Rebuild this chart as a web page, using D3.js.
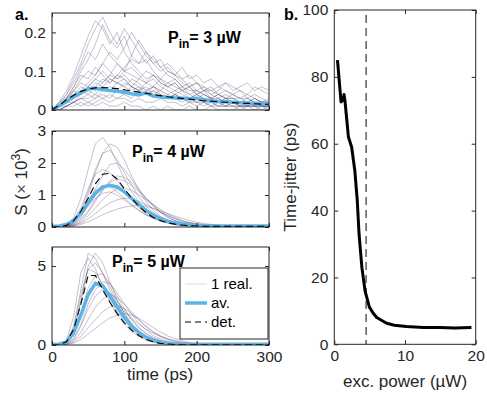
<!DOCTYPE html>
<html>
<head>
<meta charset="utf-8">
<script src="https://cdn.jsdelivr.net/npm/d3@7"></script>
<style>
  body { margin: 0; background: #fff; }
  svg { display: block; font-family: "Liberation Sans", Arial, sans-serif; }
</style>
</head>
<body>
<div id="chart"></div>
<script>
const W = 487, H = 394;

// time grid of the realizations (ps)
const TIME = d3.range(0, 301, 10);

// P_in = 3 µW
const P3_AVG = [0,.011,.022,.034,.045,.055,.056,.053,.050,.048,.046,.042,.039,.044,.036,.034,.032,.031,.030,.029,.030,.026,.023,.022,.021,.020,.019,.018,.017,.017,.016];
const P3_DET = [0,.013,.026,.038,.048,.054,.057,.058,.057,.055,.052,.049,.046,.043,.040,.037,.034,.032,.030,.028,.026,.024,.023,.021,.020,.019,.018,.017,.016,.015,.015];
const P3_REAL = [
  [0,.02,.05,.09,.14,.19,.23,.21,.17,.20,.15,.12,.10,.08,.09,.07,.06,.05,.06,.04,.03,.04,.03,.02,.03,.02,.02,.01,.02,.01,.01],
  [0,.01,.03,.06,.10,.13,.17,.22,.18,.16,.19,.14,.12,.13,.10,.08,.07,.08,.06,.05,.05,.04,.03,.04,.03,.03,.02,.02,.03,.02,.02],
  [0,.01,.02,.04,.05,.07,.09,.12,.15,.13,.16,.20,.17,.14,.12,.10,.11,.09,.07,.06,.07,.05,.06,.04,.05,.04,.03,.04,.03,.02,.03],
  [0,.01,.02,.03,.04,.05,.04,.06,.05,.07,.06,.05,.06,.04,.05,.04,.03,.04,.03,.03,.02,.03,.02,.02,.01,.02,.01,.01,.02,.01,.01],
  [0,0,.01,.01,.02,.01,.02,.03,.02,.03,.04,.03,.05,.04,.06,.08,.10,.09,.11,.08,.09,.07,.08,.06,.07,.05,.06,.07,.05,.06,.05],
  [0,.01,.03,.05,.08,.10,.09,.12,.10,.08,.09,.07,.06,.05,.06,.04,.03,.04,.03,.02,.02,.01,.02,.01,.01,.01,0,.01,0,.01,0],
  [0,0,.01,.02,.01,.02,.01,.02,.01,.01,.02,.01,.01,0,.01,0,.01,0,0,.01,0,0,.01,0,0,0,.01,0,0,0,0],
  [0,.02,.04,.07,.11,.15,.13,.17,.14,.12,.10,.11,.09,.07,.08,.06,.05,.04,.05,.03,.04,.03,.02,.03,.02,.02,.01,.02,.01,.01,.01],
  [0,.01,.02,.03,.05,.04,.06,.08,.07,.09,.11,.13,.12,.15,.13,.11,.12,.10,.08,.09,.07,.06,.05,.06,.05,.04,.05,.03,.04,.03,.02],
  [0,.01,.02,.02,.03,.03,.04,.03,.04,.03,.03,.02,.03,.02,.02,.03,.02,.02,.01,.02,.01,.02,.01,.01,.01,.02,.01,.01,.01,.01,.01],
  [0,.01,.04,.08,.12,.17,.21,.24,.20,.17,.21,.18,.15,.12,.14,.11,.09,.08,.06,.07,.05,.04,.03,.03,.02,.02,.02,.01,.01,.01,.01],
  [0,0,.01,.02,.03,.02,.03,.04,.03,.05,.04,.06,.05,.07,.06,.05,.07,.06,.05,.04,.05,.06,.04,.05,.07,.06,.05,.04,.06,.05,.04],
  [0,.01,.01,.02,.04,.06,.05,.07,.09,.08,.10,.09,.08,.10,.09,.07,.06,.07,.05,.06,.04,.05,.03,.04,.03,.03,.02,.03,.02,.02,.02],
  [0,.02,.03,.05,.07,.06,.08,.07,.09,.12,.10,.14,.18,.15,.12,.13,.10,.09,.08,.06,.07,.05,.05,.04,.03,.04,.03,.03,.02,.02,.02],
  [0,.01,.03,.04,.06,.05,.07,.06,.08,.07,.06,.08,.07,.05,.06,.05,.04,.05,.04,.03,.04,.03,.03,.02,.03,.02,.02,.02,.01,.02,.01],
  [0,.01,.02,.05,.04,.06,.08,.10,.08,.07,.08,.06,.05,.06,.04,.05,.03,.04,.03,.02,.03,.02,.02,.01,.02,.01,.01,.01,.01,0,.01],
  [0,0,.01,.02,.03,.04,.03,.05,.06,.05,.07,.06,.08,.07,.09,.08,.06,.07,.05,.06,.04,.05,.04,.03,.04,.03,.03,.02,.03,.02,.02],
  [0,.01,.03,.06,.09,.08,.11,.09,.07,.09,.08,.06,.05,.04,.05,.03,.04,.03,.02,.03,.02,.02,.01,.02,.01,.01,.01,.01,.01,.01,.01]
];

// P_in = 4 µW
const P4_AVG = [.02,.03,.08,.2,.45,.75,1.05,1.25,1.3,1.25,1.1,.9,.7,.52,.37,.26,.18,.13,.09,.07,.05,.04,.04,.03,.03,.03,.03,.03,.03,.03,.03];
const P4_DET = [0,.01,.05,.2,.5,.9,1.35,1.65,1.68,1.5,1.2,.9,.65,.45,.3,.2,.13,.09,.06,.04,.03,.02,.02,.02,.02,.02,.02,.02,.02,.02,.02];
const P4_REAL = [
  [0,0,.05,.3,.9,1.8,2.6,2.8,2.5,2.0,1.5,1.1,.8,.55,.35,.22,.14,.08,.05,.03,.02,.02,.01,.01,.01,.01,.01,.01,.01,.01,.01],
  [0,0,.03,.15,.5,1.1,1.8,2.3,2.4,2.1,1.7,1.3,.95,.65,.45,.3,.2,.12,.08,.05,.03,.02,.02,.01,.01,.01,.01,.01,.01,.01,.01],
  [0,0,.02,.1,.3,.7,1.2,1.6,1.95,2.0,1.8,1.5,1.2,.9,.65,.45,.3,.2,.13,.08,.05,.03,.02,.02,.01,.01,.01,.01,.01,.01,.01],
  [0,0,.02,.08,.25,.5,.85,1.15,1.4,1.5,1.45,1.3,1.1,.9,.7,.5,.35,.25,.17,.1,.06,.04,.03,.02,.02,.01,.01,.01,.01,.01,.01],
  [0,0,.01,.05,.15,.35,.6,.85,1.05,1.2,1.2,1.15,1.0,.85,.7,.55,.4,.3,.2,.13,.08,.05,.03,.02,.02,.01,.01,.01,.01,.01,.01],
  [0,0,.01,.04,.12,.25,.42,.6,.75,.85,.9,.88,.8,.7,.58,.46,.36,.27,.2,.14,.1,.07,.05,.03,.02,.02,.01,.01,.01,.01,.01],
  [0,0,.04,.2,.6,1.2,1.65,1.8,1.7,1.45,1.15,.85,.6,.42,.28,.18,.12,.07,.04,.03,.02,.01,.01,.01,.01,.01,.01,.01,.01,.01,.01],
  [0,0,.03,.12,.35,.65,.9,1.05,1.1,1.0,.85,.68,.52,.38,.27,.19,.13,.08,.05,.03,.02,.02,.01,.01,.01,.01,.01,.01,.01,.01,.01],
  [0,0,.01,.03,.08,.16,.27,.38,.48,.56,.62,.66,.68,.65,.58,.5,.42,.34,.27,.2,.15,.11,.08,.06,.04,.03,.02,.02,.01,.01,.01],
  [0,0,.02,.12,.45,1.0,1.7,2.3,2.6,2.5,2.1,1.6,1.15,.8,.52,.33,.2,.12,.07,.04,.03,.02,.01,.01,.01,.01,.01,.01,.01,.01,.01],
  [0,0,.03,.15,.45,.85,1.15,1.3,1.25,1.1,.9,.7,.52,.38,.28,.2,.16,.14,.12,.13,.11,.08,.05,.03,.02,.01,.01,.01,.01,.01,.01],
  [0,0,.02,.06,.2,.45,.8,1.15,1.45,1.6,1.55,1.4,1.15,.9,.66,.46,.31,.2,.13,.08,.05,.03,.02,.02,.01,.01,.01,.01,.01,.01,.01]
];

// P_in = 5 µW
const P5_AVG = [.03,.05,.2,.8,1.9,3.2,3.9,3.75,3.1,2.4,1.75,1.2,.8,.5,.3,.18,.1,.07,.05,.05,.04,.04,.04,.04,.04,.04,.04,.04,.04,.04,.04];
const P5_DET = [0,.02,.2,1.0,2.6,4.4,4.4,3.5,2.7,2.0,1.4,.95,.6,.35,.2,.1,.06,.03,.02,.02,.02,.02,.02,.02,.02,.02,.02,.02,.02,.02,.02];
const P5_REAL = [
  [0,0,.2,1.2,3.5,5.8,5.5,4.5,3.5,2.6,1.8,1.2,.75,.45,.25,.14,.08,.05,.03,.02,.01,.01,.01,.01,.01,.01,.01,.01,.01,.01,.01],
  [0,0,.15,.9,2.8,4.8,5.2,4.6,3.7,2.8,2.0,1.4,.9,.55,.32,.18,.1,.06,.03,.02,.01,.01,.01,.01,.01,.01,.01,.01,.01,.01,.01],
  [0,0,.1,.6,2.0,3.6,4.4,4.5,3.9,3.1,2.3,1.65,1.1,.7,.42,.25,.14,.08,.05,.03,.02,.01,.01,.01,.01,.01,.01,.01,.01,.01,.01],
  [0,0,.08,.4,1.3,2.6,3.5,4.0,3.9,3.3,2.6,1.95,1.4,.95,.6,.38,.23,.13,.08,.05,.03,.02,.01,.01,.01,.01,.01,.01,.01,.01,.01],
  [0,0,.05,.25,.8,1.6,2.4,2.9,3.2,3.0,2.6,2.1,1.6,1.15,.8,.52,.33,.2,.12,.07,.04,.02,.01,.01,.01,.01,.01,.01,.01,.01,.01],
  [0,0,.04,.18,.55,1.1,1.6,2.1,2.4,2.5,2.3,2.0,1.6,1.2,.85,.58,.38,.24,.15,.09,.05,.03,.02,.01,.01,.01,.01,.01,.01,.01,.01],
  [0,0,.3,1.8,4.6,5.5,4.8,3.7,2.7,1.9,1.3,.85,.52,.3,.17,.09,.05,.03,.02,.01,.01,.01,.01,.01,.01,.01,.01,.01,.01,.01,.01],
  [0,0,.1,.6,1.9,3.2,3.8,3.7,3.2,2.6,2.1,1.7,1.3,1.0,.75,.55,.4,.28,.18,.12,.08,.05,.03,.02,.01,.01,.01,.01,.01,.01,.01],
  [0,0,.2,1.1,3.2,4.8,4.6,3.8,2.9,2.1,1.5,1.0,.62,.38,.22,.12,.07,.04,.02,.01,.01,.01,.01,.01,.01,.01,.01,.01,.01,.01,.01],
  [0,0,.06,.35,1.2,2.3,3.1,3.5,3.3,2.8,2.2,1.6,1.1,.75,.48,.3,.18,.1,.06,.03,.02,.01,.01,.01,.01,.01,.01,.01,.01,.01,.01],
  [0,0,.03,.12,.35,.7,1.05,1.4,1.7,1.9,2.0,1.9,1.7,1.4,1.1,.82,.58,.4,.26,.16,.1,.06,.04,.02,.01,.01,.01,.01,.01,.01,.01],
  [0,0,.12,.8,2.8,5.0,5.8,5.2,4.0,2.9,2.0,1.3,.8,.48,.27,.15,.08,.04,.02,.01,.01,.01,.01,.01,.01,.01,.01,.01,.01,.01,.01]
];

const TIME_TICKS = [0, 100, 200, 300];

// panel b
const POWER  = [0.45, 0.95, 1.2, 1.37, 1.5, 2.0, 2.45, 2.9, 3.25, 3.5, 3.9, 4.35, 4.95, 5.5, 6.0, 7.4, 8.5, 10.2, 12.6, 15, 17, 19.4];
const JITTER = [85, 72.5, 73, 74.7, 73, 62, 59, 52, 43, 33, 23, 16, 11.2, 9.3, 8, 6.3, 5.7, 5.3, 5.0, 5.0, 4.9, 5.0];
const THRESHOLD = 4.5;
const POWER_TICKS  = [0, 10, 20];
const JITTER_TICKS = [0, 20, 40, 60, 80, 100];

const AXIS_COLOR = "#262626";
const BLUE = "#5cb3e6";
const REAL_COLOR = "rgba(84,70,108,0.42)";

const svg = d3.select("#chart").append("svg")
  .attr("width", W).attr("height", H);

function frame(g, x, y, xTicks, yTicks, showX, yFmt) {
  const [x0, x1] = x.range(), [y0, y1] = y.range();
  g.append("g").attr("transform", `translate(0,${y0})`)
    .call(d3.axisBottom(x).tickValues(xTicks).tickSizeInner(-4).tickSizeOuter(0).tickPadding(6)
      .tickFormat(showX ? d3.format("d") : ""));
  g.append("g").attr("transform", `translate(0,${y1})`)
    .call(d3.axisTop(x).tickValues(xTicks).tickSizeInner(-4).tickSizeOuter(0).tickFormat(""));
  g.append("g").attr("transform", `translate(${x0},0)`)
    .call(d3.axisLeft(y).tickValues(yTicks).tickSizeInner(-4).tickSizeOuter(0).tickPadding(6)
      .tickFormat(yFmt));
  g.append("g").attr("transform", `translate(${x1},0)`)
    .call(d3.axisRight(y).tickValues(yTicks).tickSizeInner(-4).tickSizeOuter(0).tickFormat(""));
  g.append("rect")
    .attr("x", x0).attr("y", y1).attr("width", x1 - x0).attr("height", y0 - y1)
    .attr("fill", "none").attr("stroke", AXIS_COLOR).attr("stroke-width", 1);
  g.selectAll(".domain").remove();
  g.selectAll(".tick line").attr("stroke", AXIS_COLOR);
  g.selectAll(".tick text").attr("fill", AXIS_COLOR).style("font-size", "15.5px");
}

// panel a
const panels = [
  { real: P3_REAL, avg: P3_AVG, det: P3_DET, yMax: 0.25, yTicks: [0, 0.1, 0.2], top: 13,  bottom: 110, p: "3", lx: 168, ly: 43 },
  { real: P4_REAL, avg: P4_AVG, det: P4_DET, yMax: 3,    yTicks: [0, 1, 2, 3],  top: 131, bottom: 227, p: "4", lx: 132, ly: 157 },
  { real: P5_REAL, avg: P5_AVG, det: P5_DET, yMax: 6.2,  yTicks: [0, 5],        top: 247, bottom: 345, p: "5", lx: 112, ly: 267 }
];

const xA = d3.scaleLinear().domain([0, 300]).range([52, 269]);

panels.forEach((p, i) => {
  const y = d3.scaleLinear().domain([0, p.yMax]).range([p.bottom, p.top]);
  const g = svg.append("g");
  const clipId = "clip" + i;
  svg.append("clipPath").attr("id", clipId).append("rect")
    .attr("x", 52).attr("y", p.top).attr("width", 217).attr("height", p.bottom - p.top);

  const line = d3.line().x((d, j) => xA(TIME[j])).y(d => y(d));
  const data = g.append("g").attr("clip-path", `url(#${clipId})`);
  data.selectAll(".real").data(p.real).join("path")
    .attr("d", line).attr("fill", "none")
    .attr("stroke", REAL_COLOR).attr("stroke-width", 0.8);
  data.append("path").attr("d", line(p.avg))
    .attr("fill", "none").attr("stroke", BLUE).attr("stroke-width", 3.5);
  data.append("path").attr("d", line(p.det))
    .attr("fill", "none").attr("stroke", "#000").attr("stroke-width", 1.1)
    .attr("stroke-dasharray", "7,4");

  frame(g, xA, y, TIME_TICKS, p.yTicks, i === 2, d3.format(""));

  const t = g.append("text").attr("x", p.lx).attr("y", p.ly)
    .attr("font-weight", "bold").attr("font-size", 16).attr("fill", "#000");
  t.append("tspan").text("P");
  t.append("tspan").attr("dy", 5).attr("font-size", 12).text("in");
  t.append("tspan").attr("dy", -5).text("= " + p.p + " µW");
});

// legend
const lg = svg.append("g");
lg.append("rect").attr("x", 180).attr("y", 268).attr("width", 88).attr("height", 71)
  .attr("fill", "#fff").attr("stroke", AXIS_COLOR).attr("stroke-width", 1);
const legendItems = [
  { label: "1 real.", stroke: "#dcdce0", width: 1, dash: null, y: 284 },
  { label: "av.", stroke: BLUE, width: 3.5, dash: null, y: 303 },
  { label: "det.", stroke: "#000", width: 1.1, dash: "6,4", y: 322 }
];
legendItems.forEach(d => {
  lg.append("line").attr("x1", 185).attr("x2", 207).attr("y1", d.y).attr("y2", d.y)
    .attr("stroke", d.stroke).attr("stroke-width", d.width)
    .attr("stroke-dasharray", d.dash);
  lg.append("text").attr("x", 211).attr("y", d.y + 5).attr("font-size", 15)
    .attr("fill", "#000").text(d.label);
});

// axis labels panel a
svg.append("text").attr("x", 160).attr("y", 380).attr("text-anchor", "middle")
  .attr("font-size", 17).attr("fill", AXIS_COLOR).text("time (ps)");
const sl = svg.append("text").attr("transform", "translate(27,182) rotate(-90)")
  .attr("text-anchor", "middle").attr("font-size", 17).attr("fill", AXIS_COLOR);
sl.append("tspan").text("S (");
sl.append("tspan").attr("font-weight", 300).attr("fill", "#555").text("×");
sl.append("tspan").text(" 10");
sl.append("tspan").attr("dy", -7).attr("font-size", 12).text("3");
sl.append("tspan").attr("dy", 7).text(")");

// panel b
const xB = d3.scaleLinear().domain([0, 20]).range([334.3, 475.7]);
const yB = d3.scaleLinear().domain([0, 100]).range([344.3, 10]);
const gb = svg.append("g");
gb.append("line")
  .attr("x1", xB(THRESHOLD)).attr("x2", xB(THRESHOLD))
  .attr("y1", yB(98.5)).attr("y2", yB(0))
  .attr("stroke", "#666").attr("stroke-width", 1.6).attr("stroke-dasharray", "8,5");
gb.append("path")
  .attr("d", d3.line().x((d, i) => xB(POWER[i])).y(d => yB(d))(JITTER))
  .attr("fill", "none").attr("stroke", "#000").attr("stroke-width", 3)
  .attr("stroke-linejoin", "round");
frame(gb, xB, yB, POWER_TICKS, JITTER_TICKS, true, d3.format("d"));

svg.append("text").attr("x", 405).attr("y", 387).attr("text-anchor", "middle")
  .attr("font-size", 17).attr("fill", AXIS_COLOR).text("exc. power (µW)");
svg.append("text").attr("transform", "translate(296,177) rotate(-90)")
  .attr("text-anchor", "middle").attr("font-size", 17).attr("fill", AXIS_COLOR)
  .text("Time-jitter (ps)");

// panel letters
svg.append("text").attr("x", 15).attr("y", 20).attr("font-weight", "bold")
  .attr("font-size", 16).text("a.");
svg.append("text").attr("x", 284).attr("y", 20).attr("font-weight", "bold")
  .attr("font-size", 16).text("b.");
</script>
</body>
</html>
